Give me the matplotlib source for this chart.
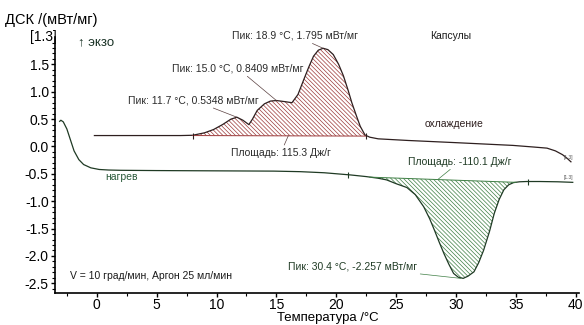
import numpy as np
import matplotlib
matplotlib.use("Agg")
import matplotlib.pyplot as plt

plt.rcParams['font.family'] = ['Liberation Sans', 'DejaVu Sans']
plt.rcParams['axes.unicode_minus'] = False
plt.rcParams['hatch.linewidth'] = 0.5

# cooling run (exo peaks), T in °C, DSC in mW/mg
cool_t = [-0.2, 2, 5, 7, 8, 9, 9.75, 10.5, 11.2, 11.7, 12.2, 12.7, 13.0, 13.4, 14.0, 14.5,
          15.0, 15.7, 16.3, 16.8, 17.3, 17.7, 18.1, 18.5, 18.9, 19.3, 19.75, 20.2, 20.6,
          21.0, 21.3, 21.7, 22.0, 22.4, 22.8, 23.5, 26, 30, 34.75, 36.5, 37.6, 38.3, 38.9,
          39.3, 39.6]
cool_v = [0.2, 0.2, 0.2, 0.2, 0.205, 0.25, 0.31, 0.40, 0.50, 0.535, 0.48, 0.40, 0.50, 0.66,
          0.78, 0.83, 0.84, 0.82, 0.80, 0.95, 1.23, 1.45, 1.65, 1.76, 1.795, 1.77, 1.68, 1.50,
          1.29, 1.02, 0.80, 0.55, 0.37, 0.21, 0.17, 0.14, 0.11, 0.07, 0.02, -0.01, -0.03,
          -0.08, -0.15, -0.22, -0.28]

# heating run (endo peak)
heat_t = [-3.1, -3.0, -2.8, -2.5, -2.2, -1.9, -1.5, -1.1, -0.5, 0.2, 1, 2, 5, 10, 14.8, 17,
          19, 21.2, 22.5, 23.5, 24.2, 25.0, 25.9, 26.6, 27.3, 27.8, 28.2, 28.6, 29.0, 29.4,
          29.8, 30.2, 30.6, 31.0, 31.5, 31.9, 32.3, 32.8, 33.2, 33.6, 34.0, 34.4, 34.8, 35.3,
          35.9, 37, 38.5, 39.75]
heat_v = [0.46, 0.48, 0.45, 0.32, 0.12, -0.08, -0.24, -0.33, -0.39, -0.42, -0.43, -0.435,
          -0.44, -0.445, -0.45, -0.46, -0.48, -0.52, -0.55, -0.58, -0.61, -0.68, -0.75, -0.88,
          -1.10, -1.32, -1.53, -1.75, -1.96, -2.15, -2.32, -2.39, -2.41, -2.37, -2.29, -2.12,
          -1.90, -1.55, -1.22, -0.97, -0.79, -0.70, -0.66, -0.645, -0.64, -0.64, -0.645, -0.655]

# integration baselines (start, end)
cool_base_t = [8.0, 22.5]
cool_base_v = [0.2, 0.19]
heat_base_t = [22.8, 35.0]
heat_base_v = [-0.56, -0.655]

cool_col = '#2e1f1f'
heat_col = '#1f3a24'
cool_hatch = '#9c3a3a'
heat_hatch = '#3f7f45'

fig = plt.figure(figsize=(5.84, 3.25), dpi=100)
ax = fig.add_axes([0.094, 0.098, 0.898, 0.788])

ax.plot(cool_t, cool_v, color=cool_col, lw=0.9)
ax.plot(heat_t, heat_v, color=heat_col, lw=0.9)

# hatched peak areas between curve and baseline
ct = np.array(cool_t)
cv = np.array(cool_v)
m = (ct >= cool_base_t[0]) & (ct <= cool_base_t[1])
cb = np.interp(ct[m], cool_base_t, cool_base_v)
ax.fill_between(ct[m], cb, cv[m], facecolor='none', edgecolor=cool_hatch,
                hatch='\\' * 8, lw=0)
ax.plot(cool_base_t, cool_base_v, color=cool_hatch, lw=0.7)

ht = np.array(heat_t)
hv = np.array(heat_v)
m = (ht >= heat_base_t[0]) & (ht <= heat_base_t[1])
hb = np.interp(ht[m], heat_base_t, heat_base_v)
ax.fill_between(ht[m], hb, hv[m], facecolor='none', edgecolor=heat_hatch,
                hatch='\\' * 8, lw=0)
ax.plot(heat_base_t, heat_base_v, color=heat_hatch, lw=0.7)

# small end-of-baseline ticks
ax.plot([8.0, 22.5], [0.2, 0.19], ls='none', marker='|', ms=4, mew=0.8, color=cool_col)
ax.plot([21.0, 36.0], [-0.515, -0.64], ls='none', marker='|', ms=4, mew=0.8, color=heat_col)

ax.set_xlim(-3.5, 40.3)
ax.set_ylim(-2.68, 2.0)
ax.set_xticks([0, 5, 10, 15, 20, 25, 30, 35, 40])
ax.set_xticks(np.arange(-2.5, 40, 2.5), minor=True)
ax.set_yticks([-2.5, -2.0, -1.5, -1.0, -0.5, 0.0, 0.5, 1.0, 1.5])
ax.set_yticks(np.arange(-2.6, 2.0, 0.1), minor=True)
ax.yaxis.set_major_formatter(matplotlib.ticker.FormatStrFormatter('%.1f'))
ax.tick_params(which='major', direction='out', length=3, width=1, pad=1.5)
ax.tick_params(axis='x', which='major', pad=0.5)
ax.tick_params(which='minor', direction='out', length=2, width=0.8)
for lab in ax.get_xticklabels() + ax.get_yticklabels():
    lab.set_fontsize(10)
for s in ['top', 'right']:
    ax.spines[s].set_visible(False)
for s in ['left', 'bottom']:
    ax.spines[s].set_linewidth(1.2)

ax.set_xlabel('Температура /°C', fontsize=9.5)
ax.xaxis.set_label_coords(0.52, -0.072)
fig.text(0.008, 0.925, 'ДСК /(мВт/мг)', fontsize=10.5)
fig.text(0.052, 0.875, '[1.3]', fontsize=10)
fig.text(0.133, 0.86, '↑ экзо', fontsize=9.5, color='#1a3326')

lc = '#5a4040'
fs = 7.5
ax.annotate('Пик: 18.9 °C, 1.795 мВт/мг', xy=(18.9, 1.795), xytext=(11.3, 1.97),
            fontsize=fs, color='#2a2a2a',
            arrowprops=dict(arrowstyle='-', color=lc, lw=0.5, shrinkA=0, shrinkB=0))
ax.annotate('Пик: 15.0 °C, 0.8409 мВт/мг', xy=(15.0, 0.84), xytext=(6.3, 1.37),
            fontsize=fs, color='#2a2a2a',
            arrowprops=dict(arrowstyle='-', color=lc, lw=0.5, shrinkA=0, shrinkB=0))
ax.annotate('Пик: 11.7 °C, 0.5348 мВт/мг', xy=(11.7, 0.535), xytext=(2.6, 0.79),
            fontsize=fs, color='#2a2a2a',
            arrowprops=dict(arrowstyle='-', color=lc, lw=0.5, shrinkA=0, shrinkB=0))
ax.annotate('Площадь: 115.3 Дж/г', xy=(16.0, 0.2), xytext=(11.2, -0.17),
            fontsize=fs, color='#2a2a2a',
            arrowprops=dict(arrowstyle='-', color=lc, lw=0.5, shrinkA=0, shrinkB=0))
ax.annotate('Площадь: -110.1 Дж/г', xy=(28.5, -0.6), xytext=(26.0, -0.33),
            fontsize=fs, color=heat_col,
            arrowprops=dict(arrowstyle='-', color=heat_hatch, lw=0.5, shrinkA=0, shrinkB=0))
ax.annotate('Пик: 30.4 °C, -2.257 мВт/мг', xy=(30.4, -2.41), xytext=(16.0, -2.25),
            fontsize=fs, color=heat_col,
            arrowprops=dict(arrowstyle='-', color=heat_hatch, lw=0.5, shrinkA=0, shrinkB=0))

ax.text(27.8, 1.97, 'Капсулы', fontsize=fs, color='#1a1a1a')
ax.text(27.4, 0.36, 'охлаждение', fontsize=fs, color='#2e1f1f')
ax.text(0.7, -0.62, 'нагрев', fontsize=fs, color='#2a5a3a')
ax.text(-2.2, -2.42, 'V = 10 град/мин, Аргон 25 мл/мин', fontsize=fs, color='#1a1a1a')
ax.text(39.0, -0.22, '[1.3]', fontsize=3.5, color='#555555')
ax.text(39.0, -0.6, '[1.3]', fontsize=3.5, color='#555555')

fig.savefig('out.png', dpi=100)
